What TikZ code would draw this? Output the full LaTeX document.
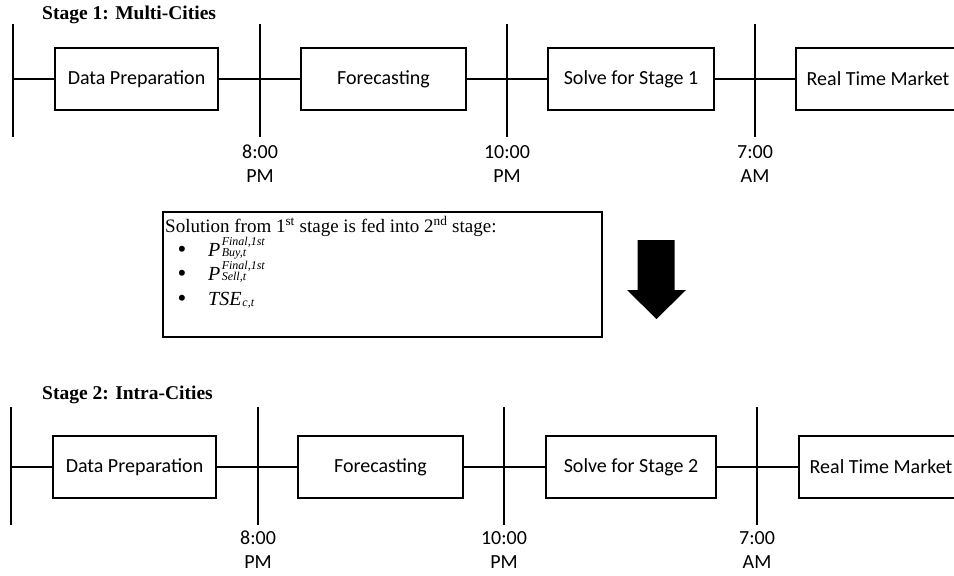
\documentclass[tikz,border=0pt]{standalone}
\usepackage{fontspec}
\setmainfont{Liberation Serif}
\newfontfamily\calibrifont{Carlito}
\begin{document}
\begin{tikzpicture}[x=1pt,y=-1pt,
  lw/.style={line width=1.8pt},
  stagebox/.style={draw,lw,minimum height=62pt,inner sep=0pt,font=\calibrifont\fontsize{20}{24}\selectfont},
  timelbl/.style={align=center,inner sep=0pt,font=\calibrifont\fontsize{20}{24}\selectfont},
  ttl/.style={anchor=west,inner sep=0pt,font=\bfseries\fontsize{19.5}{23}\selectfont},
  soltext/.style={inner sep=0pt,font=\fontsize{19}{23}\selectfont},
  bullettext/.style={inner sep=0pt,anchor=base,font=\fontsize{25}{25}\selectfont},
  mathtext/.style={inner sep=0pt,anchor=base west,font=\fontsize{20}{23}\selectfont\itshape},
  scripttext/.style={inner sep=0pt,anchor=base west,font=\fontsize{12}{12}\selectfont\itshape},
]
\clip (0,0) rectangle (954,576);
\fill[white] (0,0) rectangle (954,576);

% ---------------- Stage 1 ----------------
\node[ttl] (t1) at (42,15) {Stage 1: Multi-Cities};
\coordinate (a0) at (13,79);
\coordinate (a0t) at (13,24);  \coordinate (a0b) at (13,137);
\coordinate (a1t) at (260,24); \coordinate (a1b) at (260,137);
\coordinate (a2t) at (507,24); \coordinate (a2b) at (507,137);
\coordinate (a3t) at (755,24); \coordinate (a3b) at (755,137);
\draw[lw] (a0t) -- (a0b);
\draw[lw] (a1t) -- (a1b);
\draw[lw] (a2t) -- (a2b);
\draw[lw] (a3t) -- (a3b);
\node[stagebox,minimum width=163pt] (dp1) at (136.5,79) {Data Preparation};
\node[stagebox,minimum width=165pt] (fc1) at (383.5,79) {Forecasting};
\node[stagebox,minimum width=166pt] (sv1) at (631,79) {Solve for Stage 1};
\node[stagebox,minimum width=164pt] (rt1) at (878,79) {Real Time Market};
\draw[lw] (a0) -- (dp1);
\draw[lw] (dp1) -- (fc1);
\draw[lw] (fc1) -- (sv1);
\draw[lw] (sv1) -- (rt1);
\node[timelbl] (l11) at (260,164) {8:00\\PM};
\node[timelbl] (l12) at (507,164) {10:00\\PM};
\node[timelbl] (l13) at (755,164) {7:00\\AM};

% ---------------- Middle box ----------------
\node[draw,lw,minimum width=439pt,minimum height=125pt,inner sep=0pt] (sol) at (382.5,274.5) {};
\node[soltext,anchor=base west] (hd) at (165,232) {Solution from 1\textsuperscript{st} stage is fed into 2\textsuperscript{nd} stage:};
\node[bullettext] (b1) at (182,257) {\textbullet};
\node[bullettext] (b2) at (182,281) {\textbullet};
\node[bullettext] (b3) at (182,306) {\textbullet};
\node[mathtext] (m1) at (208,256) {P};
\node[scripttext] (m1sup) at ([xshift=1pt,yshift=11pt]m1.base east) {Final,1st};
\node[scripttext] (m1sub) at ([xshift=1pt,yshift=-0.5pt]m1.base east) {Buy,t};
\node[mathtext] (m2) at (208,280) {P};
\node[scripttext] (m2sup) at ([xshift=1pt,yshift=11pt]m2.base east) {Final,1st};
\node[scripttext] (m2sub) at ([xshift=1pt,yshift=-0.5pt]m2.base east) {Sell,t};
\node[mathtext] (m3) at (208,305) {TSE};
\node[scripttext] (m3sub) at ([xshift=0.5pt,yshift=-1pt]m3.base east) {c,t};

% big arrow
\fill[black] (637.5,240) -- (674.5,240) -- (674.5,290) -- (686,290) -- (656.5,319) -- (627,290) -- (637.5,290) -- cycle;

% ---------------- Stage 2 ----------------
\node[ttl] (t2) at (42,395) {Stage 2: Intra-Cities};
\coordinate (c0) at (11,467);
\coordinate (c0t) at (11,407);  \coordinate (c0b) at (11,525);
\coordinate (c1t) at (258,407); \coordinate (c1b) at (258,525);
\coordinate (c2t) at (504,407); \coordinate (c2b) at (504,525);
\coordinate (c3t) at (757,407); \coordinate (c3b) at (757,525);
\draw[lw] (c0t) -- (c0b);
\draw[lw] (c1t) -- (c1b);
\draw[lw] (c2t) -- (c2b);
\draw[lw] (c3t) -- (c3b);
\node[stagebox,minimum width=163pt] (dp2) at (134.5,467) {Data Preparation};
\node[stagebox,minimum width=165pt] (fc2) at (380.5,467) {Forecasting};
\node[stagebox,minimum width=170pt] (sv2) at (631,467) {Solve for Stage 2};
\node[stagebox,minimum width=164pt] (rt2) at (881,467) {Real Time Market};
\draw[lw] (c0) -- (dp2);
\draw[lw] (dp2) -- (fc2);
\draw[lw] (fc2) -- (sv2);
\draw[lw] (sv2) -- (rt2);
\node[timelbl] (l21) at (258,550) {8:00\\PM};
\node[timelbl] (l22) at (504,550) {10:00\\PM};
\node[timelbl] (l23) at (757,550) {7:00\\AM};
\end{tikzpicture}
\end{document}
